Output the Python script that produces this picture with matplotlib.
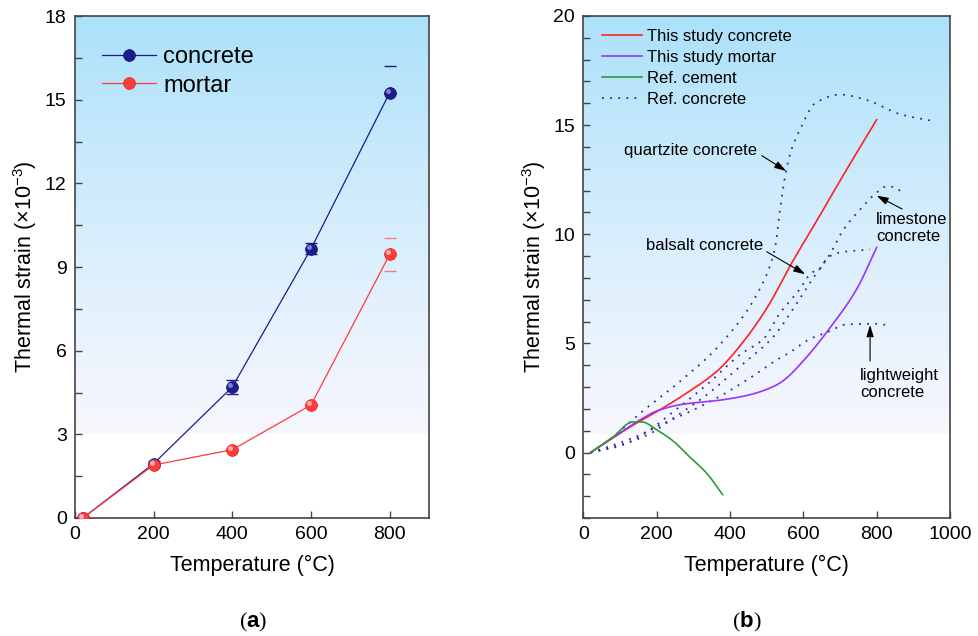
import numpy as np
import matplotlib
matplotlib.use("Agg")
import matplotlib.pyplot as plt
import matplotlib.transforms as mtransforms
from matplotlib.ticker import MultipleLocator

plt.rcParams['font.family'] = ['Liberation Sans', 'DejaVu Sans']
plt.rcParams['mathtext.fontset'] = 'custom'
plt.rcParams['mathtext.rm'] = 'Liberation Sans'
plt.rcParams['mathtext.it'] = 'Liberation Sans:italic'
plt.rcParams['mathtext.bf'] = 'Liberation Sans:bold'

# ---------------- Data: panel (a) ----------------
temps_a = [20, 200, 400, 600, 800]
concrete = [0.0, 1.95, 4.7, 9.65, 15.25]
concrete_err_lo = [0, 0.1, 0.25, 0.2, 0.0]
concrete_err_hi = [0, 0.1, 0.25, 0.2, 0.95]
mortar = [0.0, 1.9, 2.45, 4.05, 9.45]
mortar_err_lo = [0, 0.05, 0.05, 0.05, 0.6]
mortar_err_hi = [0, 0.05, 0.05, 0.05, 0.6]

# ---------------- Data: panel (b) ----------------
study_conc_x = [20, 138, 202, 275, 366, 428, 500, 569, 650, 700, 800]
study_conc_y = [0, 1.28, 1.89, 2.65, 3.75, 4.9, 6.6, 8.7, 11.0, 12.45, 15.25]
study_mort_x = [20, 100, 155, 200, 264, 382, 455, 519, 546, 600, 673, 746, 800]
study_mort_y = [0, 0.9, 1.5, 1.9, 2.19, 2.42, 2.65, 3.03, 3.3, 4.2, 5.72, 7.5, 9.4]
ref_cement_x = [20, 80, 135, 160, 200, 244, 290, 336, 380]
ref_cement_y = [0, 0.7, 1.4, 1.4, 1.04, 0.54, -0.2, -0.94, -1.93]
quartz_x = [20, 80, 155, 264, 373, 487, 523, 537, 553, 570, 591, 632, 700, 773, 864, 950]
quartz_y = [0, 0.7, 1.8, 3.26, 4.95, 7.68, 9.4, 11.2, 12.9, 14.0, 14.8, 16.0, 16.4, 16.15, 15.5, 15.2]
lime_x = [20, 100, 175, 246, 337, 428, 518, 573, 627, 673, 709, 764, 796, 828, 850, 870]
lime_y = [0, 0.35, 0.8, 1.58, 2.65, 3.95, 5.3, 6.6, 8.0, 9.1, 10.2, 11.3, 11.85, 12.2, 12.15, 11.9]
basalt_x = [20, 100, 173, 246, 337, 428, 491, 537, 591, 620, 650, 664, 701, 782]
basalt_y = [0, 0.45, 0.96, 1.88, 3.11, 4.49, 5.2, 6.4, 7.5, 8.2, 8.5, 8.9, 9.17, 9.3]
light_x = [20, 100, 209, 291, 373, 455, 537, 555, 618, 664, 718, 800, 840]
light_y = [0, 0.3, 1.26, 1.88, 2.58, 3.42, 4.34, 4.5, 5.2, 5.5, 5.87, 5.9, 5.8]


def pchip(x, y, n=400):
    """Shape-preserving cubic drawn through the read points (rendering only)."""
    x = np.asarray(x, float)
    y = np.asarray(y, float)
    h = np.diff(x)
    d = np.diff(y) / h
    m = np.zeros_like(y)
    for k in range(1, len(x) - 1):
        if d[k - 1] * d[k] > 0:
            w1 = 2 * h[k] + h[k - 1]
            w2 = h[k] + 2 * h[k - 1]
            m[k] = (w1 + w2) / (w1 / d[k - 1] + w2 / d[k])
    m[0] = d[0]
    m[-1] = d[-1]
    xs = np.linspace(x[0], x[-1], n)
    idx = np.clip(np.searchsorted(x, xs) - 1, 0, len(x) - 2)
    t = (xs - x[idx]) / h[idx]
    h00 = 2 * t**3 - 3 * t**2 + 1
    h10 = t**3 - 2 * t**2 + t
    h01 = -2 * t**3 + 3 * t**2
    h11 = t**3 - t**2
    ys = h00 * y[idx] + h10 * h[idx] * m[idx] + h01 * y[idx + 1] + h11 * h[idx] * m[idx + 1]
    return xs, ys


W, H = 979, 636
fig = plt.figure(figsize=(W / 100, H / 100), dpi=100)

ax1 = fig.add_axes([75 / W, 118 / H, 354 / W, 502 / H])
ax2 = fig.add_axes([583.3 / W, 118 / H, 366.7 / W, 502 / H])


def gradient(ax):
    n = 256
    t = np.linspace(0, 1, n)[:, None]
    top = np.array([172, 225, 250]) / 255.0
    bottom = np.array([247, 247, 254]) / 255.0
    s = np.clip((t - 0.165) / 0.835, 0, 1) ** 1.15
    rgb = bottom[None, :] * (1 - s) + top[None, :] * s
    rgb[t[:, 0] < 0.165] = np.array([1.0, 1.0, 1.0])
    img = np.repeat(rgb[:, None, :], 4, axis=1)
    ax.imshow(img, extent=[0, 1, 0, 1], transform=ax.transAxes, origin='lower',
              aspect='auto', zorder=0, interpolation='nearest')


for ax in (ax1, ax2):
    gradient(ax)
    for sp in ax.spines.values():
        sp.set_color('#444444')
        sp.set_linewidth(1.2)
    ax.tick_params(direction='in', which='both', length=5, width=1, color='#444444',
                   labelsize=14, pad=6)

# ---------------- Panel (a) ----------------
navy = '#1c1c8e'
red_a = '#ff3b3b'
ax1.plot(temps_a, concrete, '-', color=navy, lw=0.9, marker='o', ms=8.5,
         mfc=navy, mec='#0c0c6a', mew=0.5, label='concrete', zorder=4)
ax1.plot(temps_a, mortar, '-', color=red_a, lw=0.9, marker='o', ms=8.5,
         mfc=red_a, mec='#e02020', mew=0.5, label='mortar', zorder=4)
ax1.errorbar(temps_a, concrete, yerr=[concrete_err_lo, concrete_err_hi], fmt='none',
             ecolor=navy, elinewidth=0.0, capsize=4, capthick=1.0, zorder=3)
ax1.errorbar(temps_a, mortar, yerr=[mortar_err_lo, mortar_err_hi], fmt='none',
             ecolor=red_a, elinewidth=0.0, capsize=4, capthick=1.0, alpha=0.6, zorder=3)
hl = ax1.transData + mtransforms.ScaledTranslation(-1.5 / 72, 1.5 / 72, fig.dpi_scale_trans)
ax1.plot(temps_a, concrete, 'o', ms=2.5, color='#8080d0', zorder=5, transform=hl)
ax1.plot(temps_a, mortar, 'o', ms=2.5, color='#ffb0b0', zorder=5, transform=hl)

ax1.set_xlim(0, 900)
ax1.set_ylim(0, 18)
ax1.set_xticks([0, 200, 400, 600, 800])
ax1.set_yticks([0, 3, 6, 9, 12, 15, 18])
ax1.yaxis.set_minor_locator(MultipleLocator(1.5))
ax1.set_xlabel('Temperature (°C)', fontsize=15.5, labelpad=8)
ax1.set_ylabel('Thermal strain (×10$^{-3}$)', fontsize=15.5, labelpad=4)
ax1.legend(loc='upper left', bbox_to_anchor=(0.075, 0.94), frameon=False,
           fontsize=17, handlelength=2.3, handletextpad=0.3, labelspacing=0.28,
           borderaxespad=0, borderpad=0)

# ---------------- Panel (b) ----------------
dot_col = '#2a2aa8'
ax2.plot(*pchip(study_conc_x, study_conc_y), '-', color='#ff2222', lw=1.2,
         label='This study concrete', zorder=3)
ax2.plot(*pchip(study_mort_x, study_mort_y), '-', color='#9933ff', lw=1.2,
         label='This study mortar', zorder=3)
ax2.plot(*pchip(ref_cement_x, ref_cement_y), '-', color='#2e9a3a', lw=1.2,
         label='Ref. cement', zorder=3)
ax2.plot(*pchip(quartz_x, quartz_y), color=dot_col, lw=1.3, ls=(0, (1, 3.5)),
         label='Ref. concrete', zorder=2)
for xs, ys in ((lime_x, lime_y), (basalt_x, basalt_y), (light_x, light_y)):
    ax2.plot(*pchip(xs, ys), color=dot_col, lw=1.3, ls=(0, (1, 3.5)), zorder=2)

ax2.set_xlim(0, 1000)
ax2.set_ylim(-3, 20)
ax2.set_xticks([0, 200, 400, 600, 800, 1000])
ax2.set_yticks([0, 5, 10, 15, 20])
ax2.yaxis.set_minor_locator(MultipleLocator(1))
ax2.set_xlabel('Temperature (°C)', fontsize=15.5, labelpad=8)
ax2.set_ylabel('Thermal strain (×10$^{-3}$)', fontsize=15.5, labelpad=4)
ax2.legend(loc='upper left', bbox_to_anchor=(0.05, 0.975), frameon=False,
           fontsize=12, handlelength=2.4, handletextpad=0.35, labelspacing=0.36,
           borderaxespad=0, borderpad=0)

arrow = dict(arrowstyle='-|>,head_length=0.7,head_width=0.22', color='black', lw=0.8,
             shrinkA=0, shrinkB=0)
ax2.annotate('', xy=(553, 12.9), xytext=(487, 13.6), arrowprops=arrow)
ax2.text(473, 13.85, 'quartzite concrete', fontsize=12, ha='right', va='center')
ax2.annotate('', xy=(605, 8.17), xytext=(500, 9.2), arrowprops=arrow)
ax2.text(490, 9.5, 'balsalt concrete', fontsize=12, ha='right', va='center')
ax2.annotate('', xy=(800, 11.77), xytext=(869, 11.16), arrowprops=arrow)
ax2.text(799, 10.3, 'limestone\nconcrete', fontsize=12, ha='left', va='center',
         linespacing=1.2)
ax2.annotate('', xy=(782, 5.84), xytext=(782, 4.19), arrowprops=arrow)
ax2.text(755, 3.15, 'lightweight\nconcrete', fontsize=12, ha='left', va='center',
         linespacing=1.2)

fig.text(253 / W, 1 - 622 / H, r'($\mathbf{a}$)', fontsize=16, ha='center', va='center',
         family='Liberation Serif')
fig.text(747 / W, 1 - 622 / H, r'($\mathbf{b}$)', fontsize=16, ha='center', va='center',
         family='Liberation Serif')

fig.savefig('out.png', dpi=100)
